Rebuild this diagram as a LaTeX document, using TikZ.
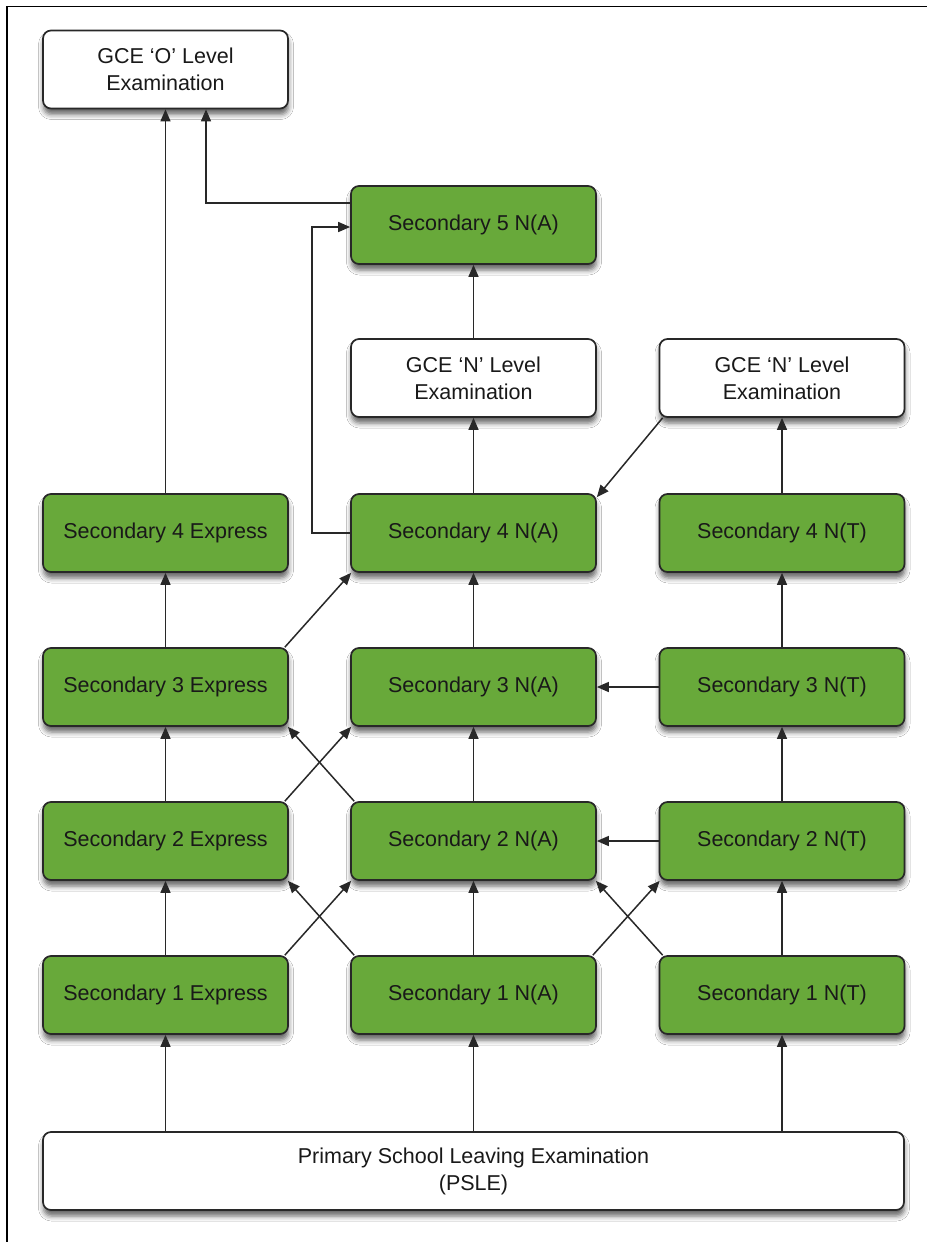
\documentclass[tikz,border=0pt]{standalone}
\usepackage{fontspec}
\setmainfont{Liberation Sans}
\usetikzlibrary{arrows.meta,shadows.blur}
\definecolor{boxgreen}{RGB}{104,169,58}
\definecolor{edgecol}{RGB}{40,40,40}
\begin{document}
\begin{tikzpicture}[x=1pt,y=-1pt,
  box/.style={draw=edgecol, line width=1.7pt, rounded corners=8pt,
    minimum width=245pt, minimum height=78pt, align=center,
    font=\fontsize{21.5}{27}\selectfont, text=black!90, inner sep=0pt,
    blur shadow={shadow xshift=0.5pt, shadow yshift=-6pt, shadow blur radius=5pt, shadow opacity=60}},
  gbox/.style={box, fill=boxgreen},
  wbox/.style={box, fill=white},
  arr/.style={draw=edgecol, line width=1.5pt, -{Triangle[length=12pt,width=10pt]}},
  frame/.style={draw=black, line width=1.4pt}]
\useasboundingbox (0,0) rectangle (927,1242);
\fill[white] (0,0) rectangle (927,1242);
\coordinate (ftl) at (7,6.5);
\coordinate (ftr) at (927,6.5);
\coordinate (fbl) at (7,1242);
\draw[frame] (fbl) -- (ftl) -- (ftr);

% nodes
\node[wbox] (go) at (165.5,69.5) {GCE ‘O’ Level\\Examination};
\node[gbox] (s5a) at (473.5,225) {Secondary 5 N(A)};
\node[wbox] (gn1) at (473.5,378) {GCE ‘N’ Level\\Examination};
\node[wbox] (gn2) at (782,378) {GCE ‘N’ Level\\Examination};

\node[gbox] (s4e) at (165.5,533) {Secondary 4 Express};
\node[gbox] (s4a) at (473.5,533) {Secondary 4 N(A)};
\node[gbox] (s4t) at (782,533) {Secondary 4 N(T)};

\node[gbox] (s3e) at (165.5,687) {Secondary 3 Express};
\node[gbox] (s3a) at (473.5,687) {Secondary 3 N(A)};
\node[gbox] (s3t) at (782,687) {Secondary 3 N(T)};

\node[gbox] (s2e) at (165.5,841) {Secondary 2 Express};
\node[gbox] (s2a) at (473.5,841) {Secondary 2 N(A)};
\node[gbox] (s2t) at (782,841) {Secondary 2 N(T)};

\node[gbox] (s1e) at (165.5,995) {Secondary 1 Express};
\node[gbox] (s1a) at (473.5,995) {Secondary 1 N(A)};
\node[gbox] (s1t) at (782,995) {Secondary 1 N(T)};

\node[wbox, minimum width=861pt] (psle) at (473.5,1171) {Primary School Leaving Examination\\(PSLE)};

% PSLE to first year
\draw[arr] (psle.north -| s1e.south) -- (s1e.south);
\draw[arr] (psle.north -| s1a.south) -- (s1a.south);
\draw[arr] (psle.north -| s1t.south) -- (s1t.south);

% Express column
\draw[arr] (s1e) -- (s2e);
\draw[arr] (s2e) -- (s3e);
\draw[arr] (s3e) -- (s4e);
\draw[arr] (s4e) -- (go);

% N(A) column
\draw[arr] (s1a) -- (s2a);
\draw[arr] (s2a) -- (s3a);
\draw[arr] (s3a) -- (s4a);
\draw[arr] (s4a) -- (gn1);
\draw[arr] (gn1) -- (s5a);

% N(T) column
\draw[arr] (s1t) -- (s2t);
\draw[arr] (s2t) -- (s3t);
\draw[arr] (s3t) -- (s4t);
\draw[arr] (s4t) -- (gn2);

% horizontal transfers
\draw[arr] (s2t.west) -- (s2a.east);
\draw[arr] (s3t.west) -- (s3a.east);

% crossings
\draw[arr] ([shift={(-4pt,0pt)}]s1e.north east) -- ([shift={(1pt,0pt)}]s2a.south west);
\draw[arr] ([shift={(4pt,0pt)}]s1a.north west) -- ([shift={(-1pt,0pt)}]s2e.south east);
\draw[arr] ([shift={(-4pt,0pt)}]s2e.north east) -- ([shift={(1pt,0pt)}]s3a.south west);
\draw[arr] ([shift={(4pt,0pt)}]s2a.north west) -- ([shift={(-1pt,0pt)}]s3e.south east);
\draw[arr] ([shift={(-4pt,0pt)}]s1a.north east) -- ([shift={(1pt,0pt)}]s2t.south west);
\draw[arr] ([shift={(4pt,0pt)}]s1t.north west) -- ([shift={(-1pt,0pt)}]s2a.south east);
\draw[arr] ([shift={(-4pt,0pt)}]s3e.north east) -- ([shift={(1pt,0pt)}]s4a.south west);
\draw[arr] ([shift={(4pt,0pt)}]gn2.south west) -- ([shift={(0pt,-4pt)}]s4a.north east);

% loops to Sec 5 and O level
\coordinate (k1) at (312,533);
\coordinate (k2) at (312,227);
\draw[arr] (s4a.west) -- (k1) -- (k2) -- (k2 -| s5a.west);
\coordinate (k3) at (206,203);
\draw[arr] (k3 -| s5a.west) -- (k3) -- (k3 |- go.south);
\end{tikzpicture}
\end{document}
